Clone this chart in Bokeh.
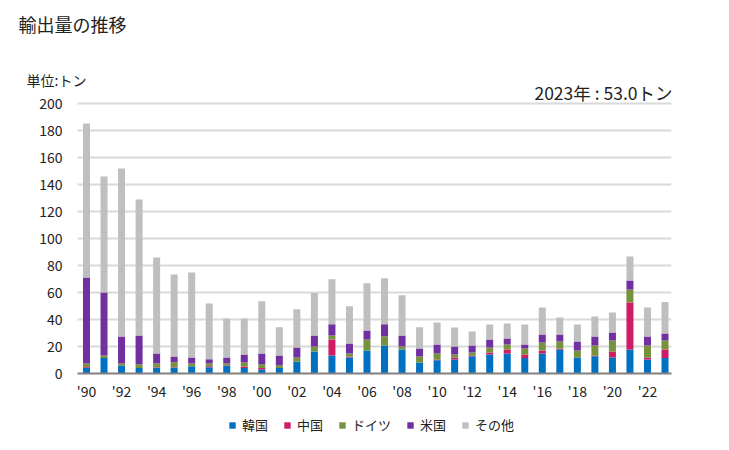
from bokeh.plotting import figure
from bokeh.layouts import column
from bokeh.models import ColumnDataSource, Label, Legend, FixedTicker, Range1d, Title
from bokeh.embed import file_html
from bokeh.resources import INLINE

years = list(range(1990, 2024))
korea = [4.2, 11.4, 5.9, 4.0, 4.2, 4.2, 5.4, 4.7, 5.7, 4.0,
         3.0, 4.0, 8.9, 16.3, 13.4, 11.9, 17.1, 20.8, 17.8, 8.2,
         9.9, 10.4, 12.8, 14.1, 14.8, 11.4, 14.8, 17.8, 11.9, 12.8,
         11.9, 17.8, 10.4, 11.4]
china = [0.7, 0.0, 0.0, 0.0, 0.5, 0.5, 0.0, 0.7, 0.5, 1.2,
         1.0, 0.0, 0.0, 0.0, 11.8, 0.7, 0.0, 0.0, 0.0, 0.0,
         0.5, 1.5, 0.5, 1.5, 3.0, 2.7, 2.2, 0.7, 0.0, 0.5,
         4.4, 34.8, 1.5, 6.4]
germany = [2.5, 1.9, 1.5, 2.7, 2.7, 3.7, 2.0, 2.0, 1.2, 3.0,
           2.7, 1.9, 3.0, 3.7, 3.0, 2.3, 8.1, 6.7, 2.2, 4.4,
           4.4, 2.2, 2.3, 3.7, 3.7, 4.4, 6.0, 5.2, 5.1, 7.4,
           8.1, 9.6, 8.8, 6.6]
usa = [63.7, 46.7, 20.0, 21.4, 7.4, 4.2, 4.5, 3.2, 4.5, 5.9,
       8.2, 7.5, 7.4, 8.2, 8.2, 7.4, 6.7, 8.9, 8.2, 6.0,
       6.7, 5.9, 5.1, 5.9, 4.4, 3.0, 5.9, 5.2, 6.7, 6.7,
       6.0, 6.7, 6.7, 5.2]
other = [114.0, 86.0, 124.5, 100.8, 71.1, 60.7, 62.9, 41.3, 28.8, 26.7,
         38.6, 20.8, 28.2, 31.5, 33.4, 27.5, 34.9, 34.1, 29.7, 15.6,
         16.3, 14.1, 10.4, 11.1, 11.1, 14.8, 20.0, 12.6, 12.6, 14.8,
         14.8, 17.8, 21.5, 23.4]

series = ["korea", "china", "germany", "usa", "other"]
series_labels = ["韓国", "中国", "ドイツ", "米国", "その他"]
colors = ["#0070C0", "#D01C64", "#76923C", "#7030A0", "#BFBFBF"]
tick_years = list(range(1990, 2023, 2))
tick_labels = {y: "'" + str(y)[2:] for y in tick_years}
y_ticks = list(range(0, 201, 20))

FONT = "Noto Sans CJK JP"
TXT = "#222222"

source = ColumnDataSource(dict(year=years, korea=korea, china=china,
                               germany=germany, usa=usa, other=other))

p = figure(width=729, height=410, output_backend="svg", toolbar_location=None,
           x_range=Range1d(1989.487, 2023.37), y_range=Range1d(0, 214.07),
           min_border_left=77, min_border_right=58, min_border_top=84,
           min_border_bottom=37)
p.outline_line_color = None

renderers = p.vbar_stack(series, x="year", width=0.4, color=colors, source=source,
                         line_color=None)

p.xgrid.grid_line_color = None
p.ygrid.grid_line_color = "#D9D9D9"
p.ygrid.grid_line_width = 2
p.yaxis.ticker = FixedTicker(ticks=y_ticks)
p.xaxis.ticker = FixedTicker(ticks=tick_years)
p.xaxis.major_label_overrides = tick_labels
p.yaxis.axis_line_color = None
p.xaxis.axis_line_color = "#808080"
p.xaxis.axis_line_width = 2
for ax in (p.xaxis[0], p.yaxis[0]):
    ax.major_tick_line_color = None
    ax.minor_tick_line_color = None
    ax.major_tick_out = 0
    ax.major_tick_in = 0
    ax.major_label_text_font = FONT
    ax.major_label_text_font_size = "14px"
    ax.major_label_text_color = TXT
p.yaxis.major_label_standoff = 15
p.xaxis.major_label_standoff = 7

# unit label nearest the frame, a blank spacer, then the main title
p.add_layout(Title(text="単位:トン", align="left", offset=-51, standoff=-10,
                   text_font=FONT, text_font_size="14px", text_font_style="normal",
                   text_color=TXT), "above")
p.add_layout(Title(text=" ", align="left", standoff=33,
                   text_font=FONT, text_font_size="1px"), "above")
p.add_layout(Title(text="輸出量の推移", align="left", offset=-59, standoff=0,
                   text_font=FONT, text_font_size="18px", text_font_style="normal",
                   text_color=TXT), "above")

p.add_layout(Label(x=595, y=281, x_units="screen", y_units="screen",
                   text="2023年 : 53.0トン", text_font=FONT, text_font_size="17.5px",
                   text_color=TXT, text_align="right", text_baseline="middle"))

# legend strip
lg = figure(width=729, height=40, output_backend="svg", toolbar_location=None,
            x_range=Range1d(0, 729), y_range=Range1d(0, 40),
            min_border=0, x_axis_type=None, y_axis_type=None)
lg.outline_line_color = None
lg.grid.visible = False
dummy = [lg.vbar(x=[-100], top=[0], width=1, color=c, line_color=None) for c in colors]
legend = Legend(items=[(lab, [r]) for lab, r in zip(series_labels, dummy)],
                orientation="horizontal", location=(151, 16),
                label_text_font=FONT, label_text_font_size="13px",
                label_text_color=TXT,
                glyph_width=8, glyph_height=8, spacing=15, label_standoff=6,
                border_line_color=None, background_fill_alpha=0, margin=0,
                padding=0)
lg.add_layout(legend, "center")

layout = column(p, lg, spacing=0)
open("out.html", "w").write(file_html(layout, INLINE))
